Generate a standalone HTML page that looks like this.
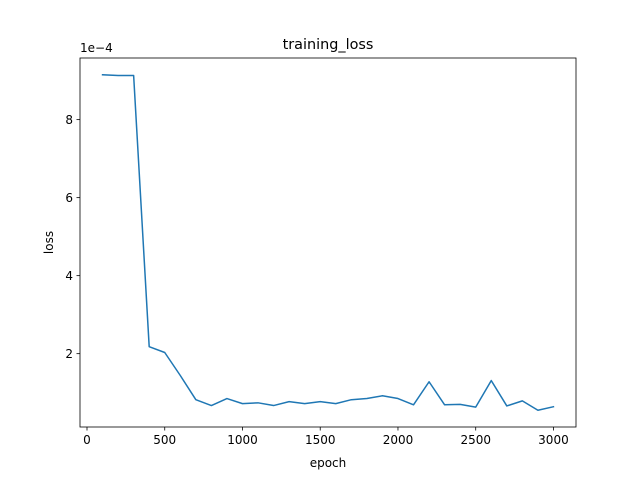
<!DOCTYPE html>
<html><head><meta charset="utf-8"><style>
body{margin:0;background:#fff}
svg text{font-family:"DejaVu Sans","Liberation Sans",sans-serif;fill:#000}
</style></head><body>
<svg id="chart" width="640" height="480" viewBox="0 0 640 480">
<rect x="0" y="0" width="640" height="480" fill="#fff"/>
<text x="328" y="49" font-size="14.4" text-anchor="middle">training_loss</text>
<text x="328" y="467" font-size="12" text-anchor="middle">epoch</text>
<text x="0" y="0" font-size="12" text-anchor="middle" transform="translate(53,242.5) rotate(-90)">loss</text>
<text x="80" y="52" font-size="12">1e−4</text>
<g id="ticks"></g>
<polyline id="line" fill="none" stroke="#1f77b4" stroke-width="1.5" stroke-linejoin="round" stroke-linecap="square"/>
<rect x="80" y="58" width="496" height="369" fill="none" stroke="#000" stroke-width="0.8"/>
</svg>
<script>
const epochs=[100,200,300,400,500,600,700,800,900,1000,1100,1200,1300,1400,1500,1600,1700,1800,1900,2000,2100,2200,2300,2400,2500,2600,2700,2800,2900,3000];
const lossE4=[9.15,9.13,9.13,2.18,2.03,1.44,0.82,0.67,0.85,0.72,0.74,0.67,0.77,0.72,0.77,0.72,0.82,0.85,0.92,0.85,0.69,1.28,0.69,0.70,0.63,1.31,0.66,0.79,0.55,0.64];
const xTicks=[0,500,1000,1500,2000,2500,3000];
const yTicks=[2,4,6,8];
const L=80,R=576,T=58,B=427;
const xmin=-45,xmax=3145,ymin=0.12,ymax=9.58;
const sx=v=>L+(v-xmin)/(xmax-xmin)*(R-L);
const sy=v=>B-(v-ymin)/(ymax-ymin)*(B-T);
const NS="http://www.w3.org/2000/svg";
const g=document.getElementById('ticks');
function mk(t,a){const e=document.createElementNS(NS,t);for(const k in a)e.setAttribute(k,a[k]);return e;}
xTicks.forEach(v=>{
 const x=sx(v);
 const l=mk('line',{x1:x,x2:x,y1:B,y2:B+3.5,stroke:'#000','stroke-width':0.8});
 
 
 g.appendChild(l);
 const t=mk('text',{x:x,y:B+17,'font-size':12,'text-anchor':'middle'});
 
 
 t.textContent=v;g.appendChild(t);
});
yTicks.forEach(v=>{
 const y=sy(v);
 const l=mk('line',{x1:L-3.5,x2:L,y1:y,y2:y,stroke:'#000','stroke-width':0.8});
 
 
 g.appendChild(l);
 const t=mk('text',{x:L-7,y:y+4.5,'font-size':12,'text-anchor':'end'});
 
 
 t.textContent=v;g.appendChild(t);
});
document.getElementById('line').setAttribute('points',epochs.map((e,i)=>sx(e).toFixed(2)+','+sy(lossE4[i]).toFixed(2)).join(' '));
</script>
</body></html>
